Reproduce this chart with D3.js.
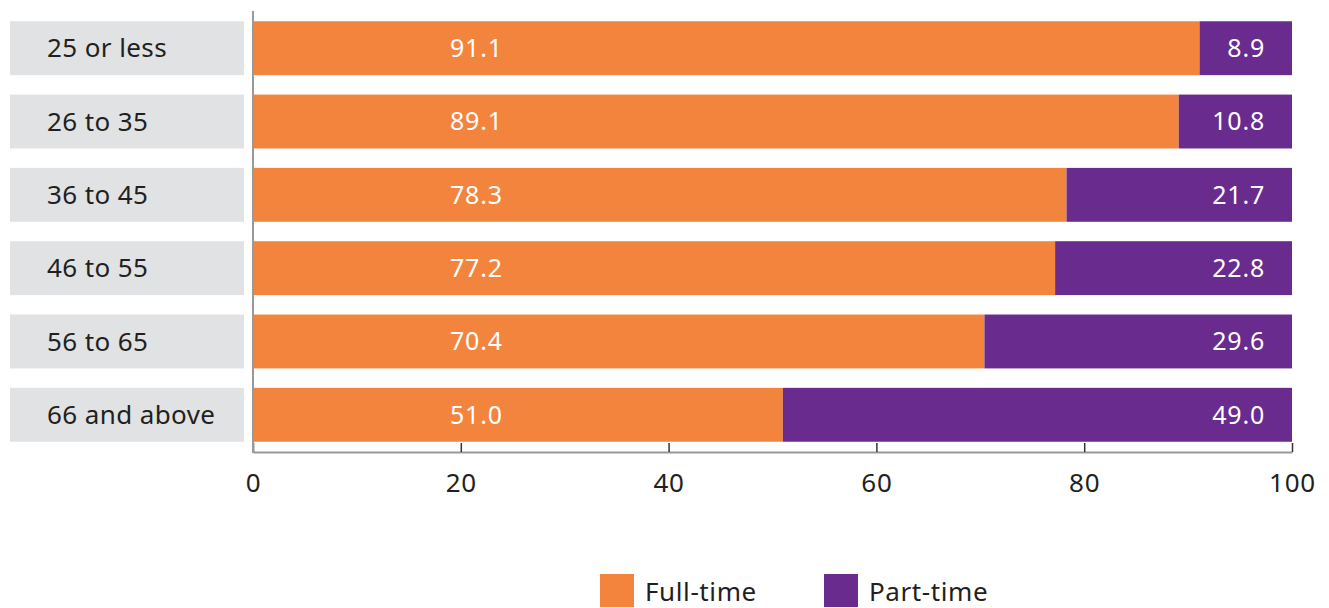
<!DOCTYPE html>
<html>
<head>
<meta charset="utf-8">
<script src="https://cdn.jsdelivr.net/npm/d3@7"></script>
<style>
  body { margin: 0; background: #fff; }
  svg text { font-family: "Noto Sans", "Open Sans", sans-serif; }
</style>
</head>
<body>
<div id="chart"></div>
<script>
// age groups and shares (%)
const categories = ['25 or less', '26 to 35', '36 to 45', '46 to 55', '56 to 65', '66 and above'];
const fullTime = [91.1, 89.1, 78.3, 77.2, 70.4, 51.0];
const partTime = [8.9, 10.8, 21.7, 22.8, 29.6, 49.0];
const seriesNames = ['Full-time', 'Part-time'];
const xTicks = [0, 20, 40, 60, 80, 100];

const W = 1329, H = 608;
const colors = { 'Full-time': '#F3843E', 'Part-time': '#692B8E' };

const svg = d3.select('#chart').append('svg')
  .attr('width', W).attr('height', H);

const x = d3.scaleLinear().domain([0, 100]).range([253, 1292]);
const y = d3.scaleBand().domain(categories)
  .range([11, 452]).paddingInner(0.265).paddingOuter(0.14);

// category label boxes
const lab = svg.append('g');
lab.selectAll('rect').data(categories).enter().append('rect')
  .attr('x', 10).attr('width', 234)
  .attr('y', d => y(d)).attr('height', y.bandwidth())
  .attr('fill', '#e1e2e4');
lab.selectAll('text').data(categories).enter().append('text')
  .attr('x', 47).attr('y', d => y(d) + y.bandwidth() / 2)
  .attr('dy', '0.35em')
  .attr('font-size', 26).attr('fill', '#231f20')
  .attr('letter-spacing', 0.4)
  .text(d => d);

// bars
const rows = categories.map((c, i) => ({ cat: c, ft: fullTime[i], pt: partTime[i] }));
const bars = svg.append('g');
bars.selectAll('rect.ft').data(rows).enter().append('rect')
  .attr('x', x(0)).attr('y', d => y(d.cat))
  .attr('width', d => x(d.ft) - x(0)).attr('height', y.bandwidth())
  .attr('fill', colors['Full-time']);
bars.selectAll('rect.pt').data(rows).enter().append('rect')
  .attr('x', d => x(d.ft)).attr('y', d => y(d.cat))
  .attr('width', d => x(100) - x(d.ft)).attr('height', y.bandwidth())
  .attr('fill', colors['Part-time']);

// value labels
bars.selectAll('text.ft').data(rows).enter().append('text')
  .attr('x', x(21.5)).attr('y', d => y(d.cat) + y.bandwidth() / 2)
  .attr('dy', '0.35em').attr('text-anchor', 'middle')
  .attr('font-size', 25).attr('fill', '#fff').attr('letter-spacing', 0.8)
  .text(d => d.ft.toFixed(1));
bars.selectAll('text.pt').data(rows).enter().append('text')
  .attr('x', x(100) - 27).attr('y', d => y(d.cat) + y.bandwidth() / 2)
  .attr('dy', '0.35em').attr('text-anchor', 'end')
  .attr('font-size', 25).attr('fill', '#fff').attr('letter-spacing', 0.8)
  .text(d => d.pt.toFixed(1));

// x axis, ticks pointing up
const xAxis = svg.append('g')
  .attr('transform', 'translate(0,452)')
  .call(d3.axisBottom(x).tickValues(xTicks).tickSize(-9).tickSizeOuter(0).tickPadding(22));
xAxis.select('.domain').attr('stroke', '#999').attr('stroke-width', 2);
xAxis.selectAll('.tick line').attr('stroke', '#333').attr('stroke-width', 1.5);
xAxis.selectAll('.tick text')
  .attr('font-size', 26).attr('fill', '#231f20').attr('letter-spacing', 0.8)
  .attr('font-family', '"Noto Sans", sans-serif');

// vertical axis line
svg.append('line')
  .attr('x1', x(0)).attr('x2', x(0)).attr('y1', 11).attr('y2', 453)
  .attr('stroke', '#999').attr('stroke-width', 2);

// legend
const legend = svg.append('g');
const legX = [600, 824];
seriesNames.forEach((s, i) => {
  legend.append('rect')
    .attr('x', legX[i]).attr('y', 574).attr('width', 34).attr('height', 33)
    .attr('fill', colors[s]);
  legend.append('text')
    .attr('x', legX[i] + 45).attr('y', 592).attr('dy', '0.35em')
    .attr('font-size', 26).attr('fill', '#231f20').attr('letter-spacing', 0.6)
    .text(s);
});
</script>
</body>
</html>
